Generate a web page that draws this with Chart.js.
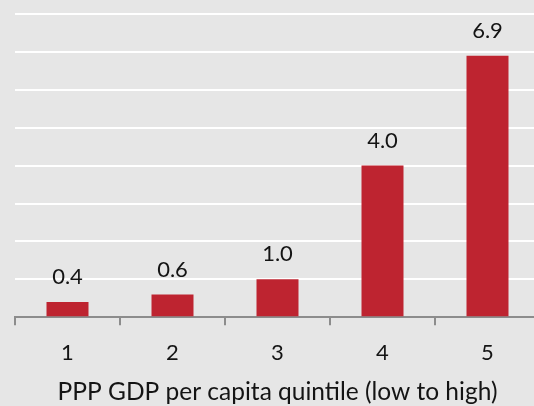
<!DOCTYPE html>
<html>
<head>
<meta charset="utf-8">
<script src="https://cdn.jsdelivr.net/npm/chart.js@4/dist/chart.umd.min.js"></script>
<style>
  html, body { margin: 0; padding: 0; background: #e6e6e6; overflow: hidden; }
  #wrap { width: 540px; height: 406px; position: relative; }
</style>
</head>
<body>
<div id="wrap"><canvas id="chart"></canvas></div>
<script>
// Quintiles of PPP GDP per capita and their values
const quintiles = ['1', '2', '3', '4', '5'];
const values = [0.4, 0.6, 1.0, 4.0, 6.9];
const yMax = 8;
const yStep = 1;
const xTitle = 'PPP GDP per capita quintile (low to high)';

const FONT = 'Lato, "Open Sans", sans-serif';
const TEXT = '#141414';

// Writes each bar's value above it
const valueLabels = {
  id: 'valueLabels',
  afterDatasetsDraw(chart) {
    const ctx = chart.ctx;
    const meta = chart.getDatasetMeta(0);
    ctx.save();
    ctx.font = '22px ' + FONT;
    ctx.fillStyle = TEXT;
    ctx.textAlign = 'center';
    ctx.textBaseline = 'middle';
    meta.data.forEach((bar, i) => {
      const v = chart.data.datasets[0].data[i];
      ctx.fillText(v.toFixed(1), bar.x, bar.y - 25);
    });
    ctx.restore();
  }
};

new Chart(document.getElementById('chart'), {
  type: 'bar',
  data: {
    labels: quintiles,
    datasets: [{
      data: values,
      backgroundColor: '#be2430',
      borderWidth: 0,
      barPercentage: 0.4,
      categoryPercentage: 1.0
    }]
  },
  options: {
    responsive: true,
    maintainAspectRatio: false,
    animation: false,
    layout: { padding: { left: 15, top: 14, right: 0, bottom: 0 } },
    plugins: {
      legend: { display: false },
      tooltip: { enabled: false }
    },
    scales: {
      x: {
        grid: {
          display: true,
          offset: true,
          drawOnChartArea: false,
          drawTicks: true,
          tickLength: 8,
          color: '#8c8c8c',
          lineWidth: 2
        },
        border: { display: true, color: '#8c8c8c', width: 2 },
        ticks: {
          color: TEXT,
          font: { family: FONT, size: 22 },
          padding: 15,
          maxRotation: 0
        },
        title: {
          display: true,
          text: xTitle,
          color: TEXT,
          font: { family: FONT, size: 24.5 },
          padding: { top: -4, bottom: -1 }
        }
      },
      y: {
        min: 0,
        max: yMax,
        ticks: { display: false, stepSize: yStep },
        grid: { color: '#ffffff', lineWidth: 2, drawTicks: false },
        border: { display: false }
      }
    }
  },
  plugins: [valueLabels]
});
</script>
</body>
</html>
